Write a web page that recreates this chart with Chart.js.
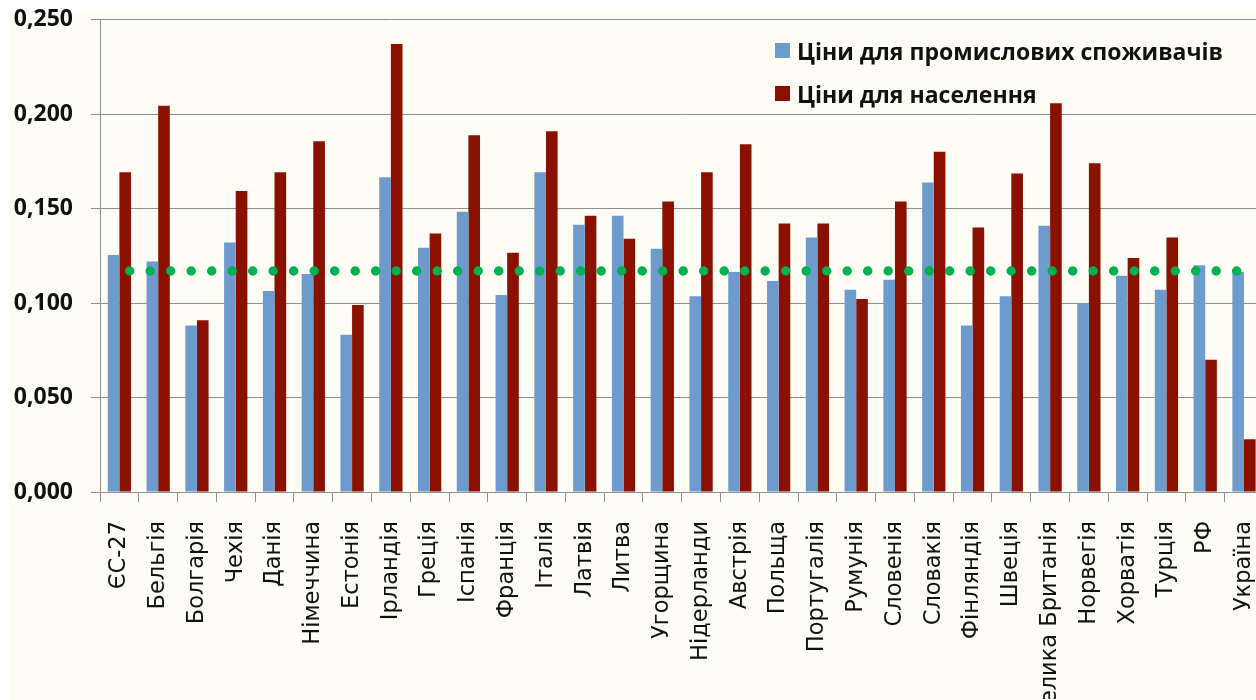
<!DOCTYPE html>
<html>
<head>
<meta charset="utf-8">
<script src="https://cdn.jsdelivr.net/npm/chart.js@4/dist/chart.umd.min.js"></script>
<style>
  html, body { margin: 0; padding: 0; background: #ffffff; overflow: hidden; width: 1256px; height: 700px; }
  #bg { position: absolute; left: 10px; top: 10px; width: 1246px; height: 690px; background: #fefdf5; }
  #wrap { position: absolute; left: 0; top: 0; }
  #legend { position: absolute; left: 775px; top: 29px; font-family: "Open Sans", sans-serif; font-weight: 700; font-size: 23px; color: #111; }
  .li { display: flex; align-items: center; height: 43px; white-space: nowrap; }
  .sw { width: 15px; height: 15px; margin-right: 7px; flex: none; }
</style>
</head>
<body>
<div id="bg"></div>
<div id="wrap"></div>
<div id="legend"></div>
<script>
const categories = ["ЄС-27","Бельгія","Болгарія","Чехія","Данія","Німеччина","Естонія","Ірландія","Греція","Іспанія","Франція","Італія","Латвія","Литва","Угорщина","Нідерланди","Австрія","Польща","Португалія","Румунія","Словенія","Словакія","Фінляндія","Швеція","Велика Британія","Норвегія","Хорватія","Турція","РФ","Україна"];
const industrialPrices = [0.1255,0.1220,0.0881,0.1321,0.1064,0.1154,0.0833,0.1667,0.1293,0.1484,0.1043,0.1693,0.1415,0.1462,0.1288,0.1036,0.1165,0.1117,0.1348,0.1071,0.1124,0.1638,0.0881,0.1036,0.1410,0.1001,0.1145,0.1071,0.1200,0.1165];
const householdPrices = [0.1693,0.2045,0.0909,0.1593,0.1693,0.1857,0.0990,0.2372,0.1369,0.1889,0.1267,0.1910,0.1462,0.1341,0.1538,0.1693,0.1841,0.1422,0.1422,0.1022,0.1538,0.1802,0.1401,0.1686,0.2058,0.1741,0.1239,0.1348,0.0700,0.0279];
const averageLevel = [0.117,0.117,0.117,0.117,0.117,0.117,0.117,0.117,0.117,0.117,0.117,0.117,0.117,0.117,0.117,0.117,0.117,0.117,0.117,0.117,0.117,0.117,0.117,0.117,0.117,0.117,0.117,0.117,0.117,0.117];
const seriesNames = ["Ціни для промислових споживачів","Ціни для населення"];
const yTicks = { min: 0, max: 0.25, step: 0.05 };

const BLUE = "#6e9bcd", RED = "#8a1000", GREEN = "#00b050", GRID = "#8e8e8e";
const TARGET_TOP = 20, TARGET_RIGHT = 1262.5, X_AXIS_H = 207, PAGE_H = 700, BASE_W = 1263;

const legend = document.getElementById("legend");
[[seriesNames[0], BLUE], [seriesNames[1], RED]].forEach(([t, c]) => {
  const d = document.createElement("div"); d.className = "li";
  const s = document.createElement("span"); s.className = "sw"; s.style.background = c;
  const tx = document.createElement("span"); tx.textContent = t;
  d.appendChild(s); d.appendChild(tx); legend.appendChild(d);
});

function makeConfig() {
  return {
    type: "bar",
    data: {
      labels: categories,
      datasets: [
        { type: "line", label: "avg", data: averageLevel, borderColor: GREEN, borderWidth: 9.5,
          borderDash: [0, 20.5], borderDashOffset: 10.2, borderCapStyle: "round", pointRadius: 0, fill: false, order: 0 },
        { label: seriesNames[0], data: industrialPrices, backgroundColor: BLUE, borderWidth: 0,
          categoryPercentage: 0.6, barPercentage: 1.0, order: 1 },
        { label: seriesNames[1], data: householdPrices, backgroundColor: RED, borderWidth: 0,
          categoryPercentage: 0.6, barPercentage: 1.0, order: 1 }
      ]
    },
    options: {
      responsive: false, animation: false, devicePixelRatio: 1,
      layout: { padding: { top: 0, left: 0, right: 0, bottom: 0 } },
      plugins: { legend: { display: false }, tooltip: { enabled: false } },
      scales: {
        x: {
          offset: true,
          grid: { offset: true, drawOnChartArea: false, drawTicks: true, tickLength: 10, color: GRID },
          border: { color: GRID, width: 1 },
          ticks: { autoSkip: false, minRotation: 90, maxRotation: 90, padding: 19, color: "#111",
            font: { family: "DejaVu Sans", size: 22.5 } },
          afterFit: s => { s.height = X_AXIS_H; }
        },
        y: {
          min: yTicks.min, max: yTicks.max,
          grid: { color: GRID, tickLength: 9, drawTicks: true },
          border: { color: GRID, width: 1 },
          ticks: { stepSize: yTicks.step, padding: 18, color: "#111",
            font: { family: "Open Sans", size: 23, weight: "700" },
            callback: v => v.toFixed(3).replace(".", ",") },
          afterFit: s => { s.width = 100; }
        }
      }
    }
  };
}

const wrap = document.getElementById("wrap");
function build(w, h) {
  wrap.innerHTML = "";
  const cv = document.createElement("canvas");
  cv.width = w; cv.height = h;
  wrap.appendChild(cv);
  return new Chart(cv, makeConfig());
}
let chart = build(BASE_W, PAGE_H);
const offTop = TARGET_TOP - chart.chartArea.top;
const extraW = Math.round(TARGET_RIGHT - chart.chartArea.right);
chart.destroy();
wrap.style.top = offTop + "px";
chart = build(BASE_W + extraW, PAGE_H - offTop);
</script>
</body>
</html>
